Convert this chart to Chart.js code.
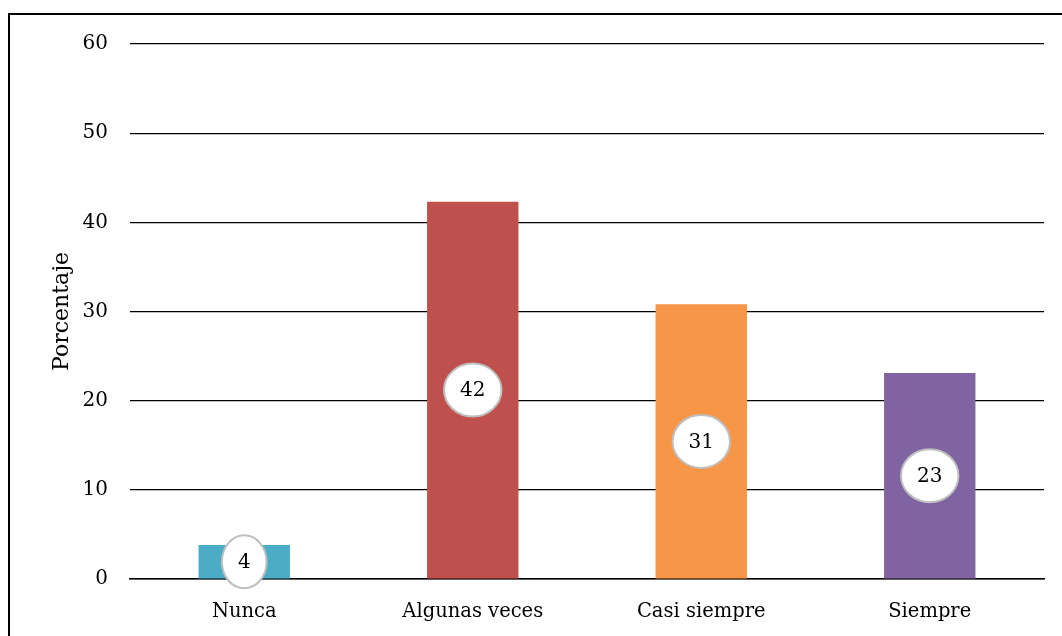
<!DOCTYPE html>
<html>
<head>
<meta charset="utf-8">
<script src="https://cdn.jsdelivr.net/npm/chart.js@4"></script>
<style>
  body { margin: 0; background: #fff; }
  #wrap { position: relative; width: 1062px; height: 636px; }
</style>
</head>
<body>
<div id="wrap"><canvas id="chart_one"></canvas></div>
<script>
// values
var categories = ["Nunca", "Algunas veces", "Casi siempre", "Siempre"];
var percentValues = [3.8, 42.3, 30.8, 23.1];
var labelTexts = ["4", "42", "31", "23"];
var barColors = ["#4BACC6", "#C0504D", "#F79646", "#8064A2"];
var yTicks = [0, 10, 20, 30, 40, 50, 60];

var serif = "'DejaVu Serif', 'Liberation Serif', serif";

// frame at top and left, like the original picture
var framePlugin = {
	id: "frame",
	beforeDraw: (chart) => {
		var ctx = chart.ctx;
		ctx.save();
		ctx.fillStyle = "#000";
		ctx.fillRect(8, 13, 1054, 2);
		ctx.fillRect(8, 13, 2, 623);
		ctx.restore();
	}
};

// white ovals with the rounded value in the middle of each bar
var ovalLabels = {
	id: "ovalLabels",
	afterDatasetsDraw: (chart) => {
		var ctx = chart.ctx;
		var meta = chart.getDatasetMeta(0);
		ctx.save();
		ctx.font = "20px " + serif;
		meta.data.forEach((bar, i) => {
			var txt = labelTexts[i];
			var cx = bar.x;
			var cy = (bar.y + bar.base) / 2;
			var rx = ctx.measureText(txt).width / 2 + 16;
			var ry = 26.5;
			ctx.beginPath();
			ctx.ellipse(cx, cy, rx, ry, 0, 0, Math.PI * 2);
			ctx.fillStyle = "#fff";
			ctx.fill();
			ctx.lineWidth = 2;
			ctx.strokeStyle = "#BFBFBF";
			ctx.stroke();
			ctx.fillStyle = "#000";
			ctx.textAlign = "center";
			ctx.textBaseline = "middle";
			ctx.fillText(txt, cx, cy + 1);
		});
		ctx.restore();
	}
};

var chart_one = new Chart(document.getElementById("chart_one"), {
	type: "bar",
	data: {
		labels: categories,
		datasets: [{
			data: percentValues,
			backgroundColor: barColors,
			barPercentage: 0.4,
			categoryPercentage: 1
		}]
	},
	options: {
		responsive: true,
		maintainAspectRatio: false,
		animation: false,
		layout: { padding: { top: 44, right: 18, bottom: 0, left: 0 } },
		plugins: {
			legend: { display: false },
			tooltip: { enabled: false }
		},
		scales: {
			x: {
				grid: { display: false },
				border: { display: true, color: "#000", width: 1.5 },
				ticks: { color: "#000", font: { family: serif, size: 19.5 }, padding: 13 },
				afterFit: (scale) => { scale.height = 57; }
			},
			y: {
				min: 0,
				max: 60,
				afterBuildTicks: (scale) => { scale.ticks = yTicks.map(v => ({ value: v })); },
				grid: { color: "#000", lineWidth: 1.2, drawTicks: false },
				border: { display: false },
				ticks: { color: "#000", font: { family: serif, size: 20 }, padding: 22 },
				title: {
					display: true,
					text: "Porcentaje",
					color: "#000",
					font: { family: serif, size: 22 },
					padding: { top: 49, bottom: 0 }
				},
				afterFit: (scale) => { scale.width = 130; }
			}
		}
	},
	plugins: [framePlugin, ovalLabels]
});
</script>
</body>
</html>
